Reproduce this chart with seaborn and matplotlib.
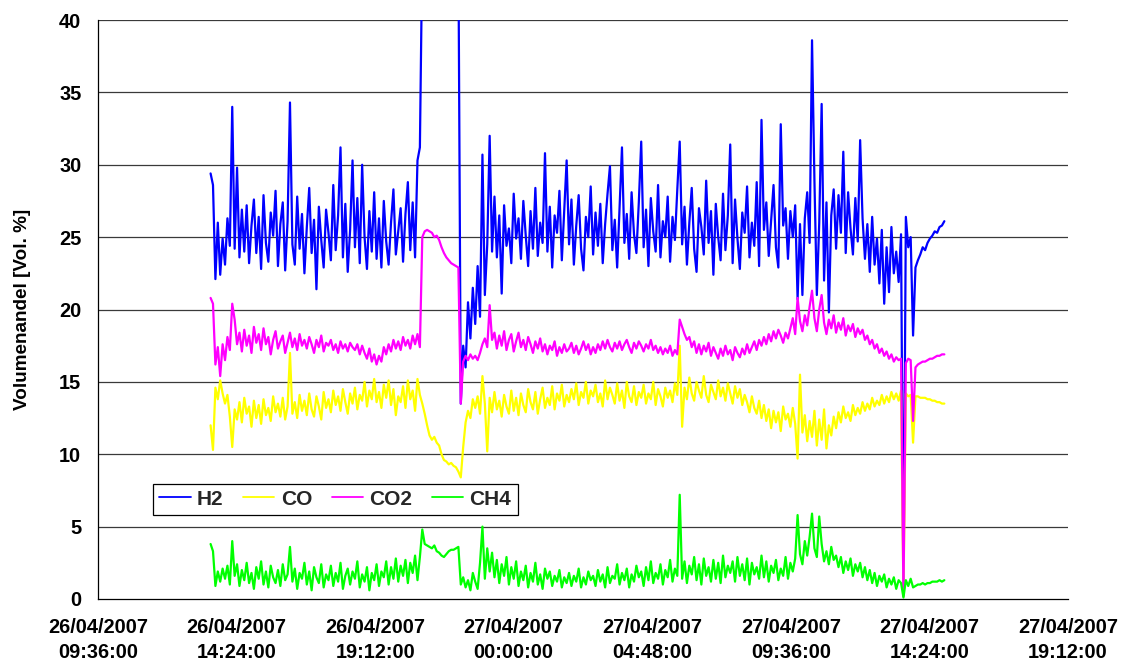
import numpy as np
import pandas as pd
import matplotlib
matplotlib.use("Agg")
import matplotlib.pyplot as plt
import matplotlib.dates as mdates
import matplotlib.ticker as mticker
import seaborn as sns

# Gas composition, one reading every 5 minutes from 26/04/2007 13:30
start_time = "2007-04-26 13:30"
step = "5min"

h2 = [
    29.4, 28.6, 22.1, 26.0, 22.4, 24.9, 23.1, 26.3, 24.4, 34.0,
    24.2, 29.8, 23.6, 26.9, 24.0, 27.2, 23.2, 25.8, 27.6, 23.9,
    26.4, 22.8, 27.9, 24.6, 23.3, 26.7, 25.1, 28.2, 23.0, 25.9,
    27.4, 22.7, 26.1, 34.3, 24.5, 23.1, 27.8, 24.2, 26.6, 22.5,
    25.7, 28.4, 23.9, 26.2, 21.4, 27.1, 24.8, 22.9, 26.9, 25.3,
    23.4, 28.6, 24.1, 26.5, 31.2, 23.6, 27.3, 22.6, 25.5, 30.3,
    24.3, 27.7, 23.2, 30.0, 25.0, 22.8, 26.8, 24.0, 28.1, 23.5,
    26.3, 22.9, 27.5, 24.7, 23.1, 26.0, 28.3, 23.8, 25.4, 27.0,
    23.3, 26.6, 28.8, 24.1, 27.4, 23.6, 30.3, 31.2, 45.0, 45.0,
    45.0, 45.0, 45.0, 45.0, 45.0, 45.0, 45.0, 45.0, 45.0, 45.0,
    45.0, 45.0, 45.0, 45.0, 13.5, 17.5, 16.0, 20.5, 18.0, 21.5,
    19.0, 23.0, 19.5, 30.7, 21.0, 24.5, 32.0, 24.0, 27.8, 23.6,
    26.5, 21.1, 27.2, 24.4, 25.6, 23.2, 28.0, 24.9, 26.3, 23.5,
    27.5, 25.1, 23.0, 26.8, 24.2, 28.4, 23.7, 26.0, 24.6, 30.8,
    24.0, 27.1, 22.9, 26.5, 25.3, 28.2, 23.4, 26.9, 30.3, 24.5,
    27.6, 23.1, 25.8, 27.9, 24.2, 22.7, 26.4, 25.0, 28.5, 23.8,
    26.7, 24.4, 27.3, 23.2, 25.9, 28.0, 29.9, 24.1, 26.2, 22.9,
    27.0, 31.2, 24.6, 26.6, 23.5, 28.1, 25.2, 23.9, 27.4, 31.6,
    24.3, 26.9, 23.0, 27.7, 25.4, 24.0, 28.6, 23.6, 26.1, 25.0,
    27.8, 23.3, 26.4, 24.8, 28.3, 31.6, 24.5, 27.1, 23.1, 26.0,
    28.4, 24.2, 22.6, 27.0, 25.7, 23.8, 28.9, 24.6, 26.8, 22.4,
    27.3, 25.0, 23.4, 28.0, 24.1, 26.5, 31.4, 23.2, 27.6, 24.9,
    22.8, 26.7, 25.3, 28.5, 23.6, 26.0, 24.4, 28.8, 23.0, 33.1,
    25.5, 27.4, 23.7, 26.2, 28.6, 24.3, 22.9, 32.8, 25.8, 27.0,
    23.5, 26.8, 25.0, 27.2, 20.7, 25.9, 21.0, 26.3, 28.1, 24.6,
    38.6, 28.9, 21.0, 26.0, 34.2, 22.0, 27.4, 19.8, 26.5, 28.3,
    24.2, 27.9, 25.3, 30.9, 23.9, 28.1, 25.6, 23.8, 27.7, 24.7,
    31.7, 26.3, 23.5, 25.9, 22.6, 26.4, 23.1, 24.9, 21.8, 25.5,
    20.4, 24.3, 21.2, 25.7, 22.5, 24.0, 21.9, 25.2, 0.3, 26.4,
    24.3, 25.0, 18.2, 22.9, 23.4, 23.8, 24.3, 24.1, 24.6, 24.9,
    25.1, 25.4, 25.3, 25.7, 25.8, 26.1,
]

co = [
    12.0, 10.3, 14.6, 13.8, 15.1, 14.2, 13.5, 14.1, 12.6, 10.5,
    13.1, 12.4, 13.6, 12.2, 13.9, 12.8, 13.3, 11.9, 13.7, 12.5,
    13.4, 12.1, 13.8, 12.7, 13.2, 12.3, 14.0, 12.9, 13.5, 12.6,
    13.9, 12.4, 13.3, 17.0, 12.8, 13.6, 12.5, 14.1, 13.0, 13.7,
    12.7, 14.2, 13.1, 12.6, 14.0, 13.3, 12.4, 14.3, 13.2, 13.8,
    12.9, 14.4, 13.4, 14.0, 13.0, 14.5, 13.6, 12.8, 14.2, 13.5,
    14.6, 13.1, 14.1, 13.7, 15.0, 13.3, 14.4, 13.8, 15.2, 13.6,
    14.3, 13.2, 14.8, 13.9, 15.1, 13.4, 14.5, 12.7, 14.0, 13.6,
    14.7, 13.2, 15.1, 13.8, 14.4, 13.0, 15.2, 14.1, 13.5, 12.8,
    12.0, 11.3, 11.0, 11.2, 10.8, 10.6, 10.0, 9.6, 9.5, 9.3,
    9.4, 9.2, 9.1, 8.8, 8.4, 10.5, 12.2, 13.0, 12.5, 13.8,
    13.2, 14.0, 12.8, 15.4, 13.5, 10.2, 13.9, 12.9, 14.3, 13.1,
    13.7, 12.6, 14.1, 13.3, 12.8, 14.4, 13.0, 13.9, 12.7, 14.2,
    13.4, 12.9, 14.5, 13.6, 13.1, 14.3, 12.8, 13.8, 14.6, 13.2,
    13.9, 13.4, 14.7, 13.1, 14.2, 13.7, 14.8, 13.3, 14.1, 13.6,
    14.5, 13.8, 14.9, 13.4, 14.3, 13.9, 15.0, 13.5, 14.4, 14.0,
    14.8, 13.6, 14.2, 13.3, 15.1, 13.8, 14.6, 14.1, 13.5, 14.9,
    13.7, 14.4, 13.2, 15.0, 14.0, 13.6, 14.7, 13.4, 14.3, 13.9,
    14.8, 13.5, 14.2, 13.8, 15.0, 13.4, 14.5, 14.0, 13.3, 14.6,
    13.9, 14.4, 13.6, 14.9, 14.1, 17.5, 11.9, 14.6, 13.8, 15.3,
    14.2, 13.7, 15.0, 14.4, 13.9, 15.4, 14.1, 13.6, 14.8, 14.3,
    13.8, 15.1, 14.0, 14.6, 13.7, 14.9, 14.2, 13.5, 14.7, 13.9,
    14.5, 13.4, 14.1, 13.6, 12.9, 14.0, 13.2, 12.8, 13.7, 12.5,
    13.4, 12.3, 13.1, 11.8, 13.0, 12.2, 12.9, 11.6, 13.3, 12.4,
    12.8, 11.9, 13.2, 12.1, 9.7, 15.5, 11.5, 12.7, 10.9, 12.3,
    11.2, 13.0, 10.6, 12.4, 11.0, 13.1, 10.4, 12.0, 11.3, 12.6,
    11.8, 12.9, 12.2, 13.3, 12.5, 12.9, 12.3, 13.4, 12.7, 13.2,
    12.8, 13.6, 13.0, 13.5, 13.1, 13.9, 13.3, 13.7, 13.4, 14.1,
    13.5, 14.0, 13.6, 14.3, 13.8, 14.2, 13.7, 14.4, 0.2, 14.2,
    14.0, 14.1, 10.8, 14.0, 14.0, 13.9, 13.9, 13.9, 13.8, 13.8,
    13.7, 13.7, 13.6, 13.6, 13.5, 13.5,
]

co2 = [
    20.8, 20.4, 16.2, 17.4, 15.4, 17.6, 16.5, 18.1, 17.2, 20.4,
    19.3, 17.6, 18.4, 17.1, 18.6, 17.5, 18.2, 17.0, 18.8, 17.7,
    18.3, 17.2, 18.7, 17.6, 18.1, 16.9, 17.9, 18.5, 17.3, 17.8,
    18.2, 17.0, 17.7, 18.4, 17.4, 18.0, 17.2, 18.3, 17.5, 17.9,
    17.3, 18.1, 17.6, 17.0, 17.9, 17.4, 18.2, 17.1, 17.7, 17.5,
    17.9, 17.2, 17.6, 17.0, 17.8, 17.3, 17.6, 17.1, 17.7, 17.4,
    17.2, 17.6, 16.9, 17.5, 17.0, 16.6, 17.3, 16.4, 16.9, 16.2,
    16.8, 16.4, 17.4, 16.9, 17.6, 17.1, 17.9, 17.3, 17.8, 17.2,
    18.1, 17.5, 17.9, 17.3, 18.2, 17.6, 18.3, 17.4, 25.0, 25.4,
    25.5, 25.4, 25.3, 25.0, 25.1, 24.8, 24.3, 23.9, 23.6, 23.4,
    23.2, 23.1, 23.0, 22.9, 13.5, 16.4, 16.8, 16.5, 16.9, 16.6,
    16.8, 16.5, 17.0, 17.6, 18.0, 17.4, 20.3, 17.9, 18.4, 17.3,
    18.2, 17.5, 18.5, 17.2, 17.9, 18.3, 17.1, 17.8, 18.4, 17.4,
    17.9, 17.2, 18.1, 17.6, 17.0, 17.8, 17.3, 18.0, 17.1, 17.6,
    16.9, 17.5, 17.2, 17.8, 16.8, 17.4, 17.0, 17.6, 17.1, 17.3,
    17.7, 17.0, 17.5, 16.9, 17.3, 17.8, 17.2, 17.6, 16.9, 17.4,
    17.0, 17.6, 17.2, 17.8, 17.3, 17.9, 17.4, 17.1, 17.7, 17.3,
    17.8, 17.2, 17.6, 17.9, 17.4, 17.0, 17.7, 17.3, 17.8, 17.5,
    17.1, 17.6, 17.3, 17.9, 17.2, 17.5, 17.0, 17.4, 16.9, 17.3,
    17.0, 17.5, 16.8, 17.2, 16.9, 19.3, 18.8, 18.3, 17.9, 18.1,
    17.4, 17.8, 17.0, 17.6, 16.9, 17.5, 17.1, 17.7, 16.8, 17.4,
    17.0, 16.6, 17.3, 16.8, 17.5, 16.9, 17.2, 16.5, 17.4, 17.0,
    16.7, 17.3, 16.9, 17.6, 17.0, 17.4, 17.8, 17.2, 17.9, 17.5,
    18.1, 17.6, 18.3, 17.8, 18.5, 18.0, 18.6, 18.2, 17.7, 18.4,
    18.0, 18.7, 19.4, 18.3, 20.8, 19.2, 18.5, 19.6, 18.9, 20.2,
    21.3, 19.4, 18.5, 20.0, 21.0, 19.1, 18.3, 19.3, 18.7, 19.6,
    18.4, 19.1, 18.6, 19.4, 18.2, 18.9, 18.5, 19.0, 18.1, 18.7,
    18.3, 18.6, 17.9, 18.2, 17.6, 17.9, 17.3, 17.6, 17.0, 17.3,
    16.8, 17.1, 16.6, 16.9, 16.4, 16.7, 16.5, 16.6, 0.2, 16.3,
    16.6, 16.5, 12.3, 16.0, 16.2, 16.3, 16.4, 16.4, 16.5, 16.6,
    16.6, 16.7, 16.8, 16.8, 16.9, 16.9,
]

ch4 = [
    3.8, 3.3, 0.9, 1.9, 1.2, 2.1, 1.4, 2.3, 1.0, 4.0,
    1.6, 2.4, 0.9, 2.0, 1.3, 2.5, 1.1, 1.8, 0.7, 2.2,
    1.4, 2.6, 1.0, 1.9, 0.8, 2.3, 1.5, 1.1, 2.0, 0.9,
    2.4, 1.3, 1.7, 3.6, 1.2, 2.1, 0.7, 1.8, 1.4, 2.5,
    1.0, 1.9, 0.6, 2.2, 1.5, 1.1, 2.4, 0.8, 1.7, 1.3,
    2.3, 0.9, 1.8, 1.2, 2.5, 0.7, 1.6, 2.1, 1.0, 1.9,
    1.4, 2.6, 0.8, 1.7, 1.2, 2.2, 0.6, 1.8, 1.3, 2.4,
    0.9, 1.9, 1.5, 2.6, 1.0, 2.2, 1.4, 2.8, 1.2, 2.3,
    1.6, 2.7, 1.1, 2.5, 1.8, 3.0, 1.3, 2.9, 4.8, 3.8,
    3.7, 3.6, 3.5, 3.7, 3.3, 3.2, 3.0, 2.9, 3.1, 3.3,
    3.4, 3.4, 3.5, 3.6, 1.0, 1.5, 0.8, 1.3, 0.6, 1.8,
    1.2, 0.7, 2.5, 5.0, 1.4, 3.5, 1.9, 3.2, 1.5, 2.7,
    1.1, 2.4, 1.6, 2.9, 1.0, 2.2, 1.4, 2.6, 0.9, 1.9,
    1.3, 2.3, 0.8, 1.8, 1.2, 2.5, 1.0, 1.7, 0.7, 2.1,
    1.4, 1.9, 0.9, 1.6, 1.2, 2.0, 0.8, 1.5, 1.1, 1.8,
    0.9, 1.6, 1.2, 2.1, 0.8, 1.5, 1.0, 1.9, 1.3, 1.6,
    0.9, 2.0, 1.2, 1.7, 0.8, 2.2, 1.1, 1.6, 1.4, 2.4,
    1.0, 1.8, 1.3, 2.1, 0.8, 1.7, 1.2, 2.3, 1.5, 1.9,
    0.9, 2.2, 1.3, 2.6, 1.1, 1.8, 1.4, 2.4, 1.0, 2.0,
    1.5, 2.7, 1.2, 2.1, 1.6, 7.2, 1.4, 2.6, 1.1, 2.3,
    1.7, 2.9, 1.3, 2.4, 1.0, 2.8, 1.6, 2.2, 1.2, 2.7,
    1.4, 2.5, 1.1, 3.0, 1.5, 2.3, 1.8, 2.6, 1.2, 2.9,
    1.6, 2.4, 1.3, 2.8, 1.0, 2.5, 1.7, 2.2, 1.4, 3.0,
    1.5, 2.6, 1.2, 2.3, 1.8, 2.7, 1.3, 2.1, 1.6, 2.9,
    1.4, 2.5, 1.9, 2.8, 5.8, 3.1, 2.4, 4.0, 3.0, 4.3,
    5.9, 3.5, 2.9, 5.7, 3.8, 2.6, 3.3, 2.4, 3.6, 2.7,
    3.0, 2.2, 2.9, 1.8, 2.6, 2.0, 2.8, 1.6, 2.4, 1.9,
    2.5, 1.5, 2.2, 1.3, 2.0, 1.1, 1.8, 0.9, 1.6, 1.2,
    1.7, 0.8, 1.4, 1.0, 1.5, 0.7, 1.3, 1.1, 0.1, 1.3,
    0.9, 1.4, 0.8, 0.9, 1.0, 1.0, 1.1, 1.0, 1.1, 1.1,
    1.2, 1.2, 1.2, 1.3, 1.2, 1.3,
]

gases = ["H2", "CO", "CO2", "CH4"]
colors = ["#0000FF", "#FFFF00", "#FF00FF", "#00FF00"]
y_ticks = list(range(0, 41, 5))
x_start, x_end = "2007-04-26 09:36", "2007-04-27 19:12"
x_tick_step = "288min"

# Long-form table for seaborn
frames = []
for name, vals in zip(gases, [h2, co, co2, ch4]):
    t = pd.date_range(start_time, periods=len(vals), freq=step)
    frames.append(pd.DataFrame({"Zeit": t, "Wert": vals, "Gas": name}))
df = pd.concat(frames, ignore_index=True)

sns.set_theme(style="white")
plt.rcParams["font.family"] = ["Liberation Sans", "DejaVu Sans"]
plt.rcParams["font.weight"] = "bold"

fig = plt.figure(figsize=(11.29, 6.71), dpi=100)
ax = fig.add_axes([98 / 1129, 1 - 599 / 671, 970 / 1129, 579 / 671])

sns.lineplot(data=df, x="Zeit", y="Wert", hue="Gas", hue_order=gases,
             palette=dict(zip(gases, colors)), estimator=None, sort=False,
             linewidth=1.6, ax=ax)

ax.set_ylim(0, 40)
ax.set_yticks(y_ticks)
ax.set_xlim(pd.Timestamp(x_start), pd.Timestamp(x_end))
tick_times = pd.date_range(x_start, x_end, freq=x_tick_step)
ax.xaxis.set_major_locator(mticker.FixedLocator(mdates.date2num(tick_times)))
ax.xaxis.set_major_formatter(mdates.DateFormatter("%d/%m/%Y\n%H:%M:%S"))

for y in y_ticks[1:]:
    ax.axhline(y, color="#3a3a3a", linewidth=0.9, zorder=0)

for side in ["top", "right"]:
    ax.spines[side].set_visible(False)
for side in ["left", "bottom"]:
    ax.spines[side].set_color("black")
    ax.spines[side].set_linewidth(0.9)

ax.tick_params(axis="both", direction="out", length=5, width=0.9, color="black",
               labelsize=14.4, labelcolor="black")
ax.tick_params(axis="x", pad=9)
ax.tick_params(axis="y", pad=7)
for lab in ax.get_xticklabels():
    lab.set_fontweight("bold")
    lab.set_linespacing(1.35)
for lab in ax.get_yticklabels():
    lab.set_fontweight("bold")

ax.set_xlabel("")
ax.set_ylabel("Volumenandel [Vol. %]", fontsize=13.6, fontweight="bold",
              color="black", labelpad=20)

sns.move_legend(ax, "lower left", bbox_to_anchor=(55 / 970, 84 / 579),
                ncol=4, title=None, frameon=True, fancybox=False,
                edgecolor="black", framealpha=1, borderaxespad=0,
                prop={"size": 15, "weight": "bold"}, handlelength=1.5,
                handletextpad=0.3, columnspacing=0.95, borderpad=0.3)
leg = ax.get_legend()
leg.get_frame().set_linewidth(0.9)
for line in leg.get_lines():
    line.set_linewidth(1.3)

fig.savefig("out.png", dpi=100, facecolor="white")
